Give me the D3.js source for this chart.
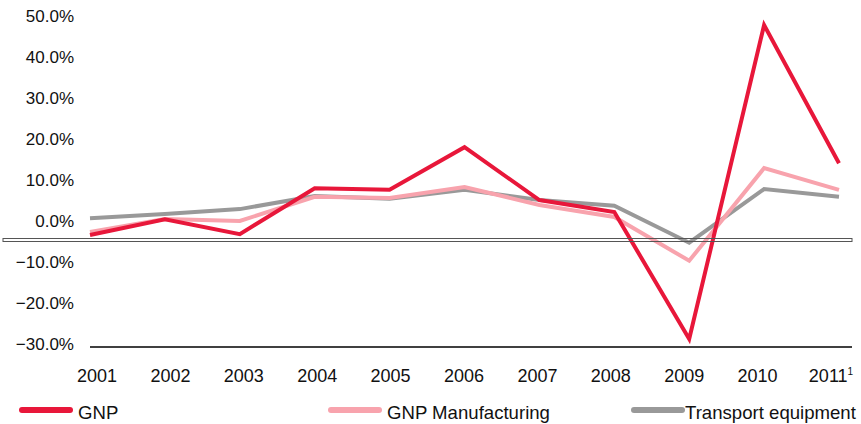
<!DOCTYPE html>
<html>
<head>
<meta charset="utf-8">
<script src="https://cdn.jsdelivr.net/npm/d3@7"></script>
<style>
  body { margin: 0; background: #fff; }
  text { font-family: "Liberation Sans", Arial, sans-serif; fill: #111; }
</style>
</head>
<body>
<svg id="chart" width="861" height="424"></svg>
<script>
// data
const years = ["2001", "2002", "2003", "2004", "2005", "2006", "2007", "2008", "2009", "2010", "2011"];
const gnp = [-3.4, 0.4, -3.2, 8.0, 7.6, 18.0, 5.1, 2.2, -28.8, 47.8, 14.1];
const gnpManufacturing = [-2.7, 0.5, 0.0, 5.9, 5.6, 8.3, 3.9, 1.0, -9.7, 12.9, 7.6];
const transportEquipment = [0.7, 1.7, 2.9, 6.1, 5.4, 7.6, 5.1, 3.7, -5.3, 7.8, 5.9];
const yTicks = [50, 40, 30, 20, 10, 0, -10, -20, -30];

const series = [
  { name: "GNP", values: gnp, color: "#e8173a" },
  { name: "GNP Manufacturing", values: gnpManufacturing, color: "#f8a3ad" },
  { name: "Transport equipment", values: transportEquipment, color: "#999999" }
];

const svg = d3.select("#chart");

// scales
const x = d3.scalePoint().domain(years).range([90, 839]);
const xLabel = d3.scalePoint().domain(years).range([97, 831]);
const y = d3.scaleLinear().domain([-30, 50]).range([344, 16]);

// y tick labels (no axis line)
svg.append("g")
  .selectAll("text")
  .data(yTicks)
  .join("text")
  .attr("x", 74)
  .attr("y", d => y(d))
  .attr("dy", "0.35em")
  .attr("text-anchor", "end")
  .style("font-size", "17px")
  .text(d => d3.format(".1f")(d) + "%");

// bottom axis line
svg.append("line")
  .attr("x1", 90).attr("x2", 852)
  .attr("y1", y(-30) + 3).attr("y2", y(-30) + 3)
  .attr("stroke", "#000").attr("stroke-width", 1.5);

// x labels
const xl = svg.append("g")
  .selectAll("text")
  .data(years)
  .join("text")
  .attr("x", d => xLabel(d))
  .attr("y", 382)
  .attr("text-anchor", "middle")
  .style("font-size", "18px");
xl.append("tspan").text(d => d);
xl.filter(d => d === "2011").append("tspan")
  .attr("dy", -7)
  .style("font-size", "10px")
  .text("1");

// lines
const line = d3.line()
  .x((d, i) => x(years[i]))
  .y(d => y(d));

svg.append("g")
  .selectAll("path")
  .data(series.slice().reverse())
  .join("path")
  .attr("d", d => line(d.values))
  .attr("fill", "none")
  .attr("stroke", d => d.color)
  .attr("stroke-width", 4)
  .attr("stroke-linejoin", "miter");

// double rule across the chart
svg.append("rect")
  .attr("x", 3).attr("y", 238.5)
  .attr("width", 849).attr("height", 3)
  .attr("fill", "none")
  .attr("stroke", "#555")
  .attr("stroke-width", 1);

// legend
const legendX = [22, 331, 634];
const legend = svg.append("g")
  .selectAll("g")
  .data(series)
  .join("g")
  .attr("transform", (d, i) => `translate(${legendX[i]},410)`);

legend.append("line")
  .attr("x1", 0).attr("x2", 48)
  .attr("stroke", d => d.color)
  .attr("stroke-width", 6)
  .attr("stroke-linecap", "round");

legend.append("text")
  .attr("x", (d, i) => i === 2 ? 51 : 56)
  .attr("y", 9)
  .style("font-size", "18.6px")
  .text(d => d.name);
</script>
</body>
</html>
